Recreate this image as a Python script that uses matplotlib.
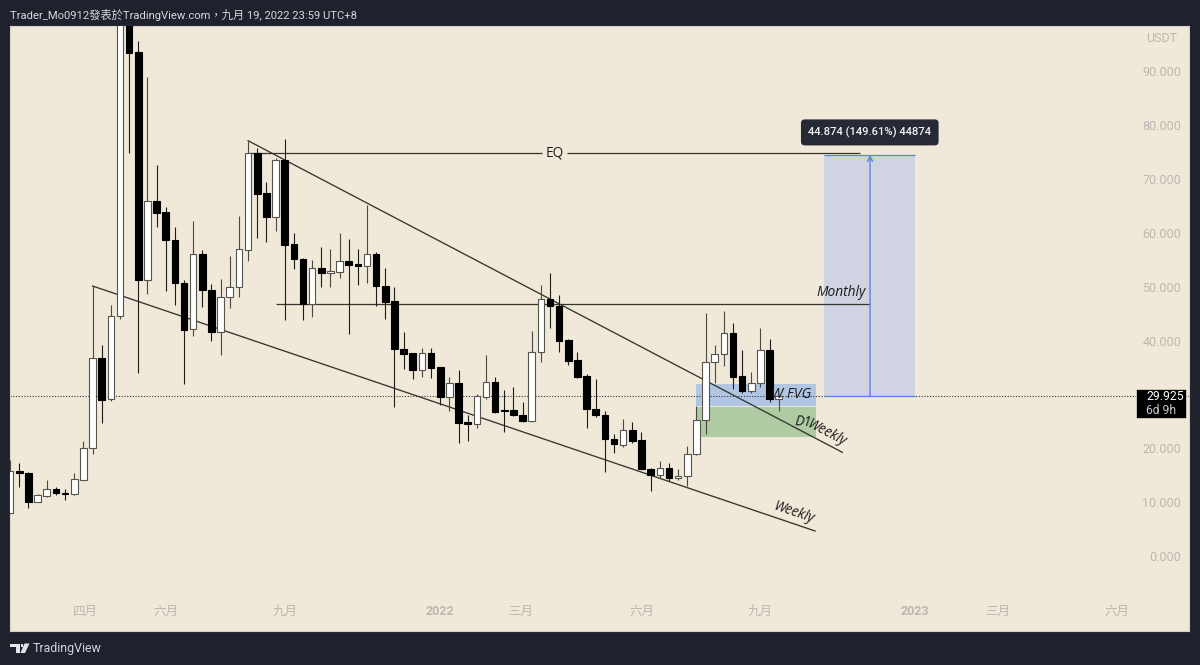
import matplotlib
matplotlib.use("Agg")
import matplotlib.pyplot as plt
from matplotlib.patches import Rectangle, Polygon

plt.rcParams['font.family'] = ['Roboto', 'Noto Sans CJK TC', 'DejaVu Sans']

# weekly candles, prices in thousands
opens = [8.23, 16.08, 15.77, 10.38, 11.44, 12.68, 11.94, 11.75, 14.47, 20.35,
         37.07, 29.40, 44.87, 108.0, 93.89, 51.55, 66.16, 64.18, 59.03, 51.05,
         42.40, 56.32, 49.75, 41.89, 48.45, 50.31, 57.12, 75.19, 67.65, 63.19,
         73.83, 58.24, 55.51, 47.09, 53.78, 52.79, 53.09, 55.08, 54.52, 54.09,
         56.38, 50.49, 47.65, 38.79, 37.94, 34.84, 37.94, 35.34, 29.77, 32.37,
         25.13, 24.87, 29.88, 32.55, 27.41, 27.41, 26.54, 25.31, 38.18, 48.08,
         46.78, 40.41, 36.69, 33.67, 27.65, 26.54, 22.08, 20.97, 23.64, 21.78,
         16.51, 15.39, 16.64, 14.73, 15.10, 19.18, 25.50, 36.32, 37.75, 41.65,
         33.67, 30.88, 32.48, 38.50, 29.45]
highs = [18.12, 17.51, 15.95, 11.81, 14.41, 13.11, 12.74, 15.65, 21.65, 50.44,
         39.48, 46.91, 115.0, 112.0, 95.93, 89.19, 72.91, 65.16, 61.34, 51.55,
         62.56, 57.12, 50.81, 51.68, 56.01, 63.43, 77.42, 76.06, 69.80, 74.21,
         77.68, 60.22, 55.60, 55.26, 57.62, 57.25, 60.22, 59.11, 57.31, 65.48,
         56.81, 53.72, 50.20, 41.95, 37.99, 38.87, 38.87, 35.39, 33.48, 34.84,
         26.48, 30.33, 37.62, 33.59, 31.12, 31.62, 28.84, 42.13, 50.62, 52.79,
         48.77, 40.65, 38.24, 34.09, 33.11, 27.28, 22.95, 25.74, 25.24, 23.32,
         16.64, 17.99, 17.51, 16.45, 20.72, 28.15, 45.48, 39.48, 45.79, 43.62,
         38.55, 34.41, 42.58, 40.65, 30.20]
lows = [8.23, 13.05, 9.21, 10.32, 11.25, 11.62, 10.70, 11.70, 14.41, 19.18,
        25.05, 29.14, 44.36, 75.19, 34.22, 48.90, 61.34, 49.56, 46.96, 32.24,
        41.21, 46.48, 40.28, 37.62, 46.30, 48.45, 55.13, 59.29, 58.66, 60.65,
        44.12, 53.54, 44.12, 44.62, 50.31, 50.31, 51.87, 41.52, 50.62, 50.94,
        46.78, 44.31, 27.91, 35.08, 33.22, 33.48, 33.35, 28.34, 27.28, 21.34,
        21.71, 24.01, 29.45, 26.91, 23.32, 26.35, 25.18, 25.18, 36.27, 42.69,
        38.12, 35.82, 33.44, 24.12, 26.17, 15.95, 19.48, 20.59, 21.34, 16.40,
        12.42, 14.73, 14.17, 14.47, 13.30, 19.13, 22.90, 32.37, 35.58, 31.25,
        30.62, 30.51, 31.74, 28.95, 27.28]
closes = [16.08, 15.65, 10.38, 11.57, 12.68, 11.94, 11.81, 14.54, 20.41, 37.07,
          29.27, 44.92, 110.0, 93.76, 51.55, 66.16, 64.05, 58.98, 50.94, 42.27,
          56.32, 49.69, 41.89, 48.45, 50.31, 57.25, 75.19, 67.52, 63.19, 73.83,
          58.05, 55.39, 47.09, 53.78, 52.79, 53.17, 55.02, 54.39, 54.15, 56.38,
          50.44, 47.52, 38.74, 37.81, 34.84, 37.94, 35.26, 29.77, 32.37, 25.05,
          24.87, 30.01, 32.55, 27.09, 27.17, 26.48, 25.31, 38.18, 48.02, 46.72,
          40.28, 36.56, 33.54, 27.60, 26.43, 22.02, 21.04, 23.64, 21.71, 16.45,
          15.28, 16.64, 14.78, 15.10, 19.24, 25.50, 36.38, 37.75, 41.65, 33.59,
          30.88, 32.48, 38.50, 29.45, 29.925]

last_price = 29.925
measure_delta = 44.874
eq_level = 75.13
monthly_level = 47.04

# the 30.000 label sits under the current price tag, so it is left out
price_ticks = [0, 10, 20, 40, 50, 60, 70, 80, 90]
date_ticks = [8.2, 17, 30, 47, 55.8, 69, 82, 98.9, 107.9, 121]
date_labels = ['四月', '六月', '九月', '2022', '三月', '六月', '九月', '2023', '三月', '六月']

BG = '#F0E8D8'
DARK = '#1E222D'
LINE = '#35352f'
AXIS_TEXT = '#bab8b0'
BLUE = '#5C84E0'
W, H = 1200, 665

fig = plt.figure(figsize=(12, 6.65), dpi=100, facecolor=DARK)
ax = fig.add_axes([10 / W, 1 - 630.5 / H, 1179 / W, 604.5 / H], facecolor=BG)
ax.set_xlim(-0.02, 128.84)
ax.set_ylim(-13.54, 98.72)


def fx(px):
    return px / W


def fy(py):
    return 1 - py / H


# zones behind the candles
ax.add_patch(Rectangle((75.0, 28.21), 13.08, 4.03, fc='#B1C6E3', ec='none', zorder=1))
ax.add_patch(Rectangle((75.0, 22.34), 13.08, 5.68, fc='#AECBA1', ec='none', zorder=1))

# projected move
measure_top = last_price + measure_delta
ax.add_patch(Rectangle((88.95, last_price), 9.95, measure_delta, fc='#CFD3E2', ec='none', zorder=1))
ax.hlines([last_price, measure_top], 88.95, 98.9, color=BLUE, lw=0.9, zorder=2.5)
ax.annotate('', xy=(93.98, measure_top), xytext=(93.98, last_price), zorder=2.5,
            arrowprops=dict(arrowstyle='->', color=BLUE, lw=1.0, mutation_scale=9,
                            shrinkA=0, shrinkB=0))

# levels and trendlines
ax.hlines(eq_level, 26, 58.1, color=LINE, lw=0.9, zorder=2)
ax.hlines(eq_level, 60.9, 92.9, color=LINE, lw=0.9, zorder=2)
ax.hlines(monthly_level, 29, 94.0, color=LINE, lw=0.9, zorder=2)
ax.plot([26, 90.95], [77.42, 19.55], color=LINE, lw=0.95, zorder=2)
ax.plot([9, 87.97], [50.44, 4.94], color=LINE, lw=0.95, zorder=2)
ax.axhline(last_price, color='#333333', lw=0.8, ls=(0, (1, 1.5)), zorder=2)

# candles
for i, (o, h, l, c) in enumerate(zip(opens, highs, lows, closes)):
    up = c >= o
    ax.vlines(i, l, h, color='#4a4a42' if up else '#1c1c18', lw=0.8, zorder=3)
    bottom, height = (o, c - o) if up else (c, o - c)
    ax.bar(i, height, bottom=bottom, width=0.72,
           color='#ffffff' if up else '#000000',
           edgecolor='#55554e' if up else '#000000', linewidth=0.8, zorder=3.5)

# annotations on the chart
note = dict(family=['Open Sans', 'DejaVu Sans'], color='#1c1c1c', zorder=5)
ax.text(59.5, eq_level, 'EQ', ha='center', va='center', fontsize=9.8, **note)
ax.text(90.85, 49.2, 'Monthly', ha='center', va='center', fontsize=9.9, style='italic', **note)
ax.text(85.3, 30.3, 'W FVG', ha='center', va='center', fontsize=10.3, style='italic', **note)
ax.text(86.7, 25.2, 'D1', ha='center', va='center', fontsize=9.9, style='italic', rotation=-5, **note)
ax.text(89.2, 23.2, 'Weekly', ha='center', va='center', fontsize=9.9, style='italic',
        rotation=-27.5, rotation_mode='anchor', **note)
ax.text(85.7, 8.3, 'Weekly', ha='center', va='center', fontsize=9.9, style='italic',
        rotation=-19, rotation_mode='anchor', **note)
ax.text(93.95, 78.96, '44.874 (149.61%) 44874', ha='center', va='center', fontsize=8.1,
        color='#f2f3f5', fontweight='medium', zorder=6,
        bbox=dict(boxstyle='round,pad=0.65,rounding_size=0.35', fc='#262A35', ec='none'))

# axes
ax.yaxis.tick_right()
ax.set_yticks(price_ticks)
ax.set_yticklabels([f'{p:.3f}' for p in price_ticks])
ax.set_xticks(date_ticks)
ax.set_xticklabels(date_labels)
ax.tick_params(axis='y', length=0, pad=-5.8, labelsize=9, labelcolor=AXIS_TEXT)
ax.tick_params(axis='x', length=0, pad=-13.5, labelsize=9, labelcolor=AXIS_TEXT)
plt.setp(ax.yaxis.get_majorticklabels(), ha='right', va='center')
for lab, txt in zip(ax.get_xticklabels(), date_labels):
    lab.set_va('center')
    if txt.isdigit():
        lab.set_fontweight('bold')
for spine in ax.spines.values():
    spine.set_color('#d6d2c6')
    spine.set_linewidth(0.8)

fig.text(fx(1146), fy(39), 'USDT', color=AXIS_TEXT, fontsize=9, ha='left', va='center')

# current price tag
fig.add_artist(Rectangle((fx(1136), fy(418.3)), 50 / W, 29.6 / H, fc='#000000',
                         ec='#e8e2d2', lw=0.5, transform=fig.transFigure, zorder=6))
fig.text(fx(1146), fy(396.5), f'{last_price:.3f}', color='#ffffff', fontsize=8.7,
         ha='left', va='center', zorder=7)
fig.text(fx(1146), fy(411), '6d 9h', color='#c8c8c8', fontsize=8.7, ha='left', va='center', zorder=7)

# header and footer
fig.text(fx(10), fy(15), 'Trader_Mo0912發表於TradingView.com，九月 19, 2022 23:59 UTC+8',
         color='#d6d7dc', fontsize=8.15, ha='left', va='center')
fig.text(fx(32.5), fy(648.5), 'TradingView', color='#d1d4dc', fontsize=8.9, ha='left', va='center')
logo = dict(fc='#e4e5e9', ec='none', transform=fig.transFigure)
fig.add_artist(Polygon([(fx(x), fy(y)) for x, y in
                        [(10, 643.5), (20, 643.5), (20, 653), (15.5, 653), (15.5, 647), (10, 647)]],
                       **logo))
fig.add_artist(Polygon([(fx(x), fy(y)) for x, y in
                        [(24.5, 643.5), (29.5, 643.5), (25, 653), (20.5, 653)]], **logo))
fig.add_artist(Rectangle((fx(20.8), fy(647)), 2.6 / W, 3 / H, **logo))

fig.savefig('out.png', dpi=100, facecolor=DARK)
